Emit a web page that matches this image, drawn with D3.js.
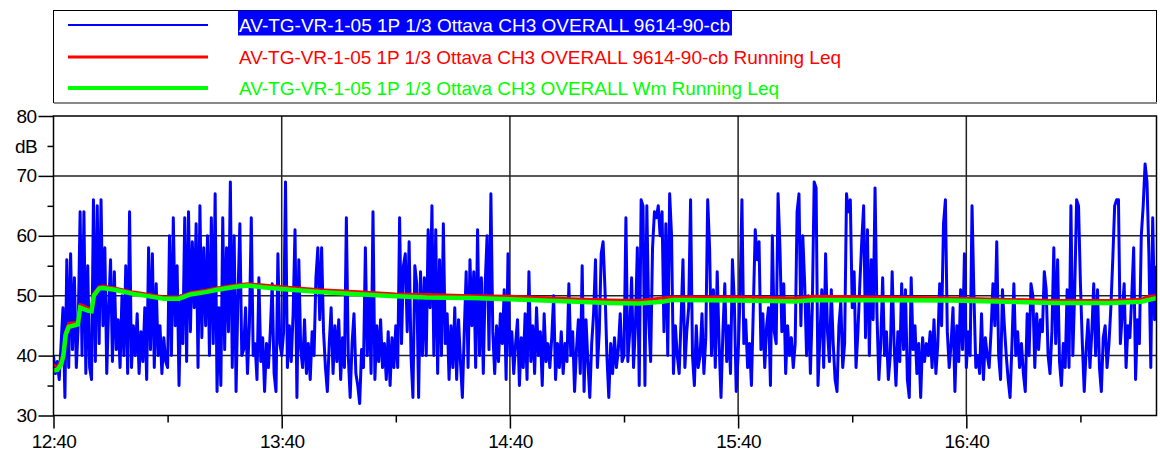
<!DOCTYPE html>
<html>
<head>
<meta charset="utf-8">
<script src="https://cdn.jsdelivr.net/npm/d3@7"></script>
<style>
  body { margin: 0; background: #fff; }
  text { font-family: "Liberation Sans", Arial, sans-serif; }
</style>
</head>
<body>
<svg id="chart" width="1160" height="456"></svg>
<script>
// x axis: minutes after 12:40
var xMajorMinutes = [0, 60, 120, 180, 240];
var xMajorLabels = ["12:40", "13:40", "14:40", "15:40", "16:40"];
var xMinorMinutes = [30, 90, 150, 210, 270];
var xEndMinutes = 290;

// y axis, dB
var yMajor = [30, 40, 50, 60, 70, 80];
var yMinor = [35, 45, 55, 65, 75];
var yUnit = "dB";

var seriesNames = [
  "AV-TG-VR-1-05 1P 1/3 Ottava CH3 OVERALL 9614-90-cb",
  "AV-TG-VR-1-05 1P 1/3 Ottava CH3 OVERALL 9614-90-cb Running Leq",
  "AV-TG-VR-1-05 1P 1/3 Ottava CH3 OVERALL Wm Running Leq"
];

// blue series, one value every 30 s, one row per 10 minutes
var sampleStep = 0.5;
var levels = [
  40,37,39,36,42,48,33,56,38,57,41,53,38,45,64,40,64,37,55,38,
  36,66,39,65,42,66,45,58,37,48,56,39,54,41,46,38,50,40,55,37,
  64,38,45,40,47,37,44,39,48,36,58,41,57,38,52,40,45,37,43,39,
  38,60,40,63,45,55,35,50,42,63,39,64,44,59,48,62,38,65,43,58,
  45,60,40,63,42,67,34,48,35,63,41,58,44,69,38,60,34,50,62,40,
  41,48,37,45,63,40,42,36,53,39,43,34,42,38,44,52,37,34,57,42,
  40,44,69,38,45,39,47,61,33,56,41,38,46,37,42,36,44,40,53,58,
  46,58,44,38,34,42,48,37,45,39,46,36,43,38,63,40,33,42,47,37,
  35,32,41,38,58,40,50,37,64,36,45,39,46,38,42,36,44,35,43,38,
  45,38,63,42,55,57,44,59,40,33,55,52,33,54,40,53,40,61,48,65,
  40,61,37,56,40,62,42,47,36,45,38,48,36,46,39,33,44,54,38,56,
  45,54,38,61,40,53,37,52,60,41,67,44,37,45,39,47,42,51,36,57,
  40,44,37,42,46,35,43,38,47,36,54,39,45,37,48,40,44,35,47,39,
  42,38,43,50,36,42,38,44,37,42,39,52,40,44,34,41,46,37,55,34,
  46,39,33,42,47,56,38,44,57,59,51,40,33,42,37,43,38,41,47,39,
  40,63,39,44,53,38,45,58,35,66,65,35,65,46,39,58,64,63,65,60,
  64,44,62,40,67,60,37,45,40,37,46,56,38,44,48,66,40,35,45,38,
  40,47,37,43,66,58,40,51,38,54,42,33,44,52,39,45,37,56,49,34,
  40,50,66,42,46,38,42,35,48,61,56,59,41,47,38,45,48,35,60,44,
  42,67,58,44,52,37,45,40,43,38,42,64,67,45,60,52,40,50,37,48,
  69,68,35,43,51,38,57,44,39,51,42,36,34,45,49,38,42,67,64,66,
  48,54,38,44,52,59,65,43,61,40,56,46,68,47,36,42,53,40,44,36,
  40,54,42,35,44,39,52,41,51,36,33,53,41,45,37,42,33,43,39,42,
  40,44,38,46,37,42,52,45,62,66,44,38,42,48,34,45,39,51,41,57,
  38,44,40,65,50,38,40,37,47,36,43,40,38,44,52,45,59,40,36,51,
  45,40,36,33,42,52,40,44,38,42,37,34,47,40,52,50,38,47,41,46,
  44,54,51,40,37,44,58,42,56,39,35,42,38,51,38,65,40,51,66,65,
  52,42,34,41,46,38,44,52,40,51,38,34,43,45,38,42,48,56,65,66,
  66,42,47,52,38,45,43,50,58,36,46,42,60,65,72,69,57,38,63,46,
  55
];

// running Leq curves, read at these minutes
var runMinutes = [0, 1, 2, 2.6, 3.2, 4, 6.4, 7, 9, 10, 10.6, 12, 13, 16, 21, 26, 29, 33, 36, 40, 43,
  48, 51, 55, 60, 70, 79, 90, 98, 110, 120, 136, 146, 154, 160, 163, 180, 195, 200, 236,
  263, 278, 286, 288, 290];
var runLeq = [38.5, 38.0, 39.2, 40.5, 44.0, 45.4, 45.6, 48.5, 48.0, 47.8, 50.4, 51.5, 51.6, 51.3,
  50.6, 50.1, 49.8, 49.8, 50.5, 50.9, 51.3, 51.8, 52.0, 51.8, 51.5, 51.0, 50.7, 50.3, 50.2,
  50.0, 49.9, 49.5, 49.3, 49.2, 49.6, 49.8, 49.8, 49.6, 49.9, 49.6, 49.2, 49.2, 49.4, 49.9, 50.0];
var runLeqWm = [37.5, 37.6, 38.5, 40.0, 43.5, 44.8, 45.2, 48.0, 47.5, 47.4, 50.0, 51.2, 51.3, 51.0,
  50.3, 49.8, 49.5, 49.5, 50.2, 50.6, 51.0, 51.5, 51.7, 51.4, 51.1, 50.6, 50.3, 49.9, 49.7,
  49.6, 49.4, 49.05, 48.8, 48.7, 49.0, 49.3, 49.2, 49.05, 49.3, 49.2, 48.8, 48.8, 49.0, 49.3, 49.6];

var colors = ["#0000ff", "#ff0000", "#00ff00"];

var plot = {left: 53.5, right: 1156.5, top: 116, bottom: 415.5};

var svg = d3.select("#chart");

var x = d3.scaleLinear().domain([0, xEndMinutes]).range([plot.left, plot.right]);
var y = d3.scaleLinear().domain([30, 80]).range([plot.bottom, plot.top]);

// legend
var legend = svg.append("g");
legend.append("rect")
  .attr("x", 53.5).attr("y", 10.5)
  .attr("width", 1103).attr("height", 92)
  .attr("fill", "#fff").attr("stroke", "#000").attr("stroke-width", 1);
legend.append("line")
  .attr("x1", 54).attr("x2", 1157).attr("y1", 103).attr("y2", 103)
  .attr("stroke", "#888").attr("stroke-width", 2);

var legendY = [25, 57, 88];
var legendWidths = [2, 3, 4];
var textLengths = [491, 602, 540];
legend.append("rect")
  .attr("x", 238).attr("y", 10.5).attr("width", 494).attr("height", 25)
  .attr("fill", "#0000ff");
seriesNames.forEach(function(name, i) {
  legend.append("line")
    .attr("x1", 68).attr("x2", 208)
    .attr("y1", legendY[i]).attr("y2", legendY[i])
    .attr("stroke", colors[i]).attr("stroke-width", legendWidths[i]);
  legend.append("text")
    .attr("x", 239).attr("y", legendY[i] + 6.5)
    .attr("textLength", textLengths[i])
    .attr("lengthAdjust", "spacing")
    .style("font-size", "19px")
    .attr("fill", i == 0 ? "#fff" : colors[i])
    .text(name);
});

// grid
var grid = svg.append("g").attr("stroke", "#222").attr("stroke-width", 1.5);
grid.selectAll(".h").data(yMajor.slice(1, -1)).enter().append("line")
  .attr("x1", plot.left).attr("x2", plot.right)
  .attr("y1", d => y(d)).attr("y2", d => y(d));
grid.selectAll(".v").data(xMajorMinutes.slice(1)).enter().append("line")
  .attr("y1", plot.top).attr("y2", plot.bottom)
  .attr("x1", d => x(d)).attr("x2", d => x(d));

// data lines
svg.append("clipPath").attr("id", "clip").append("rect")
  .attr("x", plot.left).attr("y", plot.top)
  .attr("width", plot.right - plot.left).attr("height", plot.bottom - plot.top);

var lines = svg.append("g").attr("clip-path", "url(#clip)");

var blueLine = d3.line()
  .x(function(d, i) { return x(i * sampleStep); })
  .y(function(d) { return y(d); });
lines.append("path").datum(levels)
  .attr("d", blueLine)
  .attr("fill", "none").attr("stroke", colors[0])
  .attr("stroke-width", 3).attr("stroke-linejoin", "round");

var runLine = d3.line()
  .x(function(d, i) { return x(runMinutes[i]); })
  .y(function(d) { return y(d); });
lines.append("path").datum(runLeq)
  .attr("d", runLine)
  .attr("fill", "none").attr("stroke", colors[1]).attr("stroke-width", 3);
lines.append("path").datum(runLeqWm)
  .attr("d", runLine)
  .attr("fill", "none").attr("stroke", colors[2]).attr("stroke-width", 4.5);

// frame
svg.append("rect")
  .attr("x", plot.left).attr("y", plot.top)
  .attr("width", plot.right - plot.left).attr("height", plot.bottom - plot.top)
  .attr("fill", "none").attr("stroke", "#000").attr("stroke-width", 1.5);

// y axis
svg.append("g")
  .attr("transform", "translate(" + plot.left + ",0)")
  .call(d3.axisLeft(y).tickValues(yMajor).tickSize(15).tickPadding(2));
svg.append("g")
  .attr("transform", "translate(" + plot.left + ",0)")
  .call(d3.axisLeft(y).tickValues(yMinor).tickSize(6).tickFormat(""));

// x axis
svg.append("g")
  .attr("transform", "translate(0," + plot.bottom + ")")
  .call(d3.axisBottom(x).tickValues(xMajorMinutes).tickSize(13).tickPadding(6)
    .tickFormat(function(d, i) { return xMajorLabels[i]; }));
svg.append("g")
  .attr("transform", "translate(0," + plot.bottom + ")")
  .call(d3.axisBottom(x).tickValues(xMinorMinutes).tickSize(7).tickFormat(""));

svg.selectAll(".domain").remove();
svg.selectAll(".tick line").attr("stroke", "#000").attr("stroke-width", 1.5);
svg.selectAll(".tick text")
  .attr("fill", "#000")
  .style("font-size", "19px")
  .style("letter-spacing", "-0.6px")
  .style("font-family", "'Liberation Sans', Arial, sans-serif");

svg.append("text")
  .attr("x", 37).attr("y", y(75) + 7)
  .attr("text-anchor", "end")
  .style("font-size", "19px")
  .style("letter-spacing", "-0.6px")
  .text(yUnit);
</script>
</body>
</html>
